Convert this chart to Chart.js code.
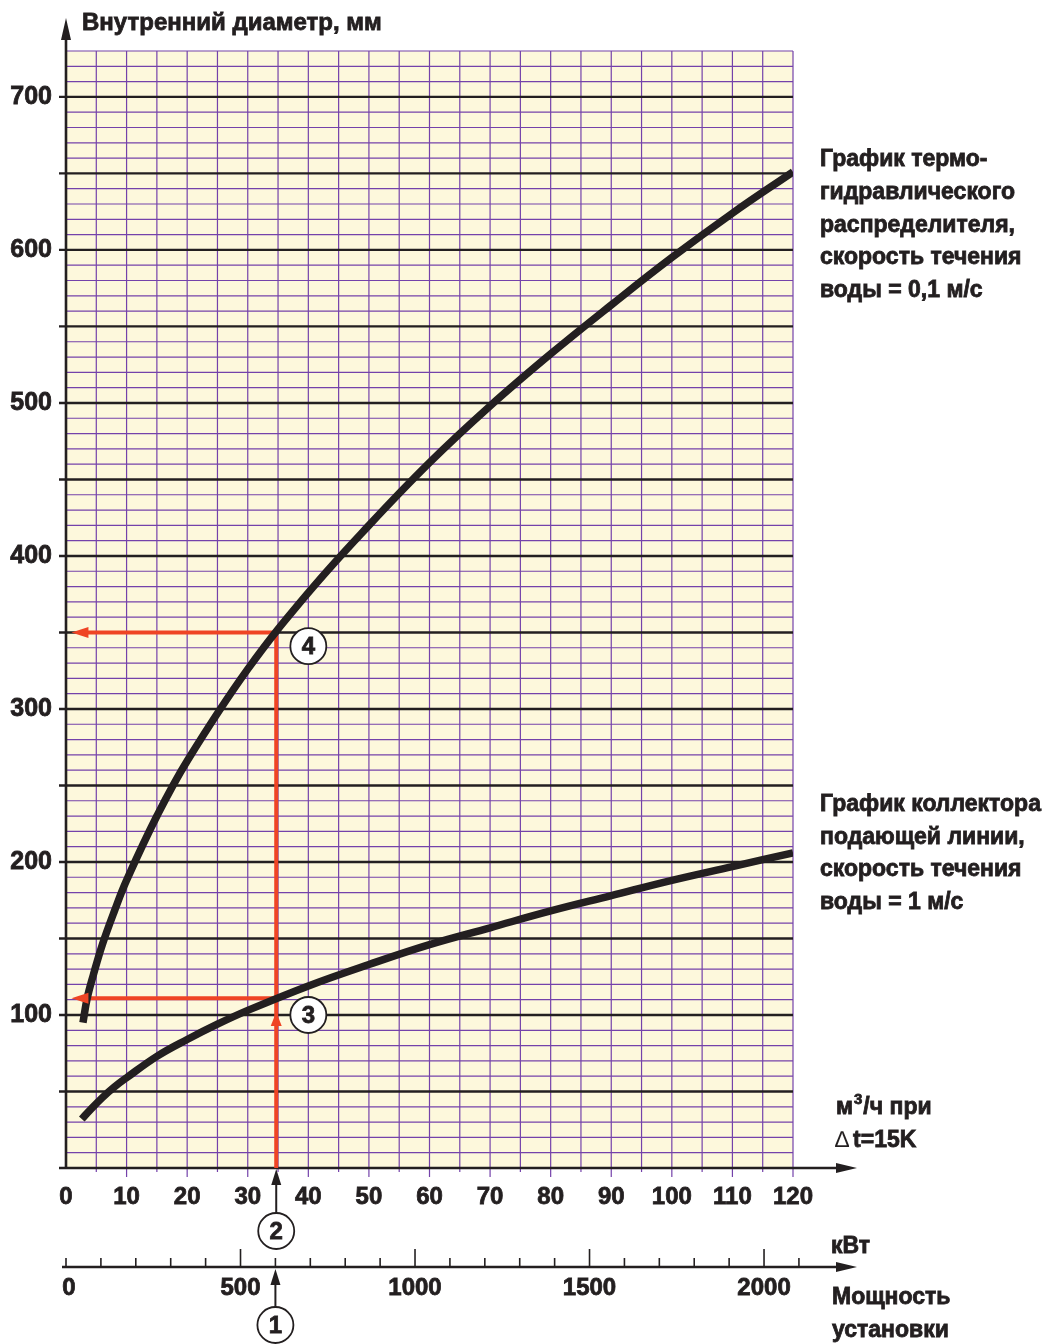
<!DOCTYPE html>
<html>
<head>
<meta charset="utf-8">
<script src="https://cdn.jsdelivr.net/npm/chart.js@4"></script>
<style>
  html, body { margin: 0; padding: 0; background: #fff; }
</style>
</head>
<body>
<canvas id="chart" width="1052" height="1344"></canvas>
<script>
// values
const flowTop = [2.8, 3.5, 4.5, 6, 8, 10, 15, 20, 30, 40, 50, 60, 70, 80, 90, 100, 110, 120];
const diamTop = [95, 111, 126, 146, 168, 188, 230, 266, 326, 376, 420, 461, 498, 532, 564, 595, 624, 651];
const flowBottom = [2.6, 4, 6, 8, 10, 15, 20, 25, 30, 40, 50, 60, 70, 80, 90, 100, 110, 120];
const diamBottom = [32, 38, 46, 53, 59, 73, 84, 94, 103, 119, 133, 146, 157, 168, 178, 188, 197, 206];

const guideFlow = 34.7;      // m3/h, red vertical
const guideDiam = [111, 350]; // mm, red horizontals
const guideKw = 600;
const kwAt120 = 2083;        // kW at the right edge of the grid

const xTickLabels = [0, 10, 20, 30, 40, 50, 60, 70, 80, 90, 100, 110, 120];
const yTickLabels = [100, 200, 300, 400, 500, 600, 700];
const kwTickLabels = [0, 500, 1000, 1500, 2000];

const ink = '#231f20';
const red = '#ef4424';
const purple = '#7442aa';
const font = '"Liberation Sans", Arial, sans-serif';

const toPoints = (xs, ys) => xs.map((v, i) => ({ x: v, y: ys[i] }));

function line(ctx, x1, y1, x2, y2) {
    ctx.beginPath();
    ctx.moveTo(x1, y1);
    ctx.lineTo(x2, y2);
    ctx.stroke();
}

function head(ctx, tx, ty, dir, len, hw) {
    ctx.beginPath();
    ctx.moveTo(tx, ty);
    if (dir === 'up') {
        ctx.lineTo(tx - hw, ty + len);
        ctx.lineTo(tx + hw, ty + len);
    } else if (dir === 'left') {
        ctx.lineTo(tx + len, ty - hw);
        ctx.lineTo(tx + len, ty + hw);
    } else {
        ctx.lineTo(tx - len, ty - hw);
        ctx.lineTo(tx - len, ty + hw);
    }
    ctx.closePath();
    ctx.fill();
}

// heavy text: fill plus a thin stroke of the same colour
function text(ctx, t, x, y) {
    ctx.fillText(t, x, y);
    ctx.strokeText(t, x, y);
}

function circled(ctx, cx, cy, label) {
    ctx.beginPath();
    ctx.arc(cx, cy, 18, 0, Math.PI * 2);
    ctx.fillStyle = '#fff';
    ctx.fill();
    ctx.lineWidth = 1.8;
    ctx.strokeStyle = ink;
    ctx.stroke();
    ctx.fillStyle = ink;
    ctx.lineWidth = 0.8;
    ctx.font = 'bold 24px ' + font;
    ctx.textAlign = 'center';
    ctx.textBaseline = 'middle';
    text(ctx, label, cx, cy + 1);
}

const gridPlugin = {
    id: 'grid',
    beforeDatasetsDraw(chart) {
        const { ctx, chartArea: a, scales: { x, y } } = chart;
        ctx.save();
        ctx.fillStyle = '#fdf8dc';
        ctx.fillRect(a.left, a.top, a.right - a.left, a.bottom - a.top);

        ctx.strokeStyle = purple;
        ctx.lineWidth = 1.2;
        for (let v = 5; v <= 120; v += 5) {
            const px = x.getPixelForValue(v);
            line(ctx, px, a.top, px, a.bottom + (v % 10 === 0 ? 9 : 4));
        }
        for (let v = 10; v <= 730; v += 10) {
            if (v % 50 === 0) continue;
            const py = y.getPixelForValue(v);
            line(ctx, a.left, py, a.right, py);
        }

        ctx.strokeStyle = ink;
        ctx.lineWidth = 2.4;
        for (let v = 50; v <= 700; v += 50) {
            const py = y.getPixelForValue(v);
            line(ctx, a.left - 7, py, a.right, py);
        }

        // axes with arrows
        ctx.fillStyle = ink;
        ctx.lineWidth = 2.6;
        line(ctx, a.left, a.bottom + 1, a.left, 36);
        head(ctx, a.left, 18, 'up', 22, 5);
        line(ctx, 59, a.bottom, 840, a.bottom);
        head(ctx, 857, a.bottom, 'right', 21, 5);
        ctx.restore();
    },
    afterDatasetsDraw(chart) {
        const { ctx, scales: { x, y, kw } } = chart;
        ctx.save();

        // red arrowheads
        ctx.fillStyle = red;
        const gx = x.getPixelForValue(guideFlow);
        head(ctx, gx, y.getPixelForValue(102), 'up', 14, 5.5);
        guideDiam.forEach(d => head(ctx, x.getPixelForValue(0.9), y.getPixelForValue(d), 'left', 17, 5.5));

        circled(ctx, x.getPixelForValue(40), y.getPixelForValue(341), '4');
        circled(ctx, x.getPixelForValue(40), y.getPixelForValue(100), '3');

        // arrow 2 to the flow axis
        ctx.strokeStyle = ink;
        ctx.fillStyle = ink;
        ctx.lineWidth = 2;
        line(ctx, gx, 1213, gx, 1183);
        head(ctx, gx, 1169, 'up', 16, 5);
        circled(ctx, gx, 1231, '2');

        // kW axis
        const axisY = 1267;
        ctx.strokeStyle = ink;
        ctx.fillStyle = ink;
        ctx.lineWidth = 2.5;
        line(ctx, 62, axisY, 840, axisY);
        head(ctx, 857, axisY, 'right', 21, 5);
        ctx.lineWidth = 1.6;
        for (let v = 0; v <= 2100; v += 100) {
            const px = kw.getPixelForValue(v);
            const top = (v % 500 === 0 && v > 0) ? 1249 : 1258;
            line(ctx, px, top, px, axisY);
        }
        ctx.lineWidth = 0.8;
        ctx.font = 'bold 24px ' + font;
        ctx.textAlign = 'center';
        ctx.textBaseline = 'alphabetic';
        kwTickLabels.forEach(v => {
            text(ctx, String(v), kw.getPixelForValue(v) + (v === 0 ? 3 : 0), 1295);
        });

        // arrow 1 to the kW axis
        const kx = kw.getPixelForValue(guideKw);
        ctx.lineWidth = 2;
        line(ctx, kx, 1307, kx, 1282);
        head(ctx, kx, 1269, 'up', 16, 5);
        circled(ctx, kx, 1325, '1');

        // texts
        ctx.fillStyle = ink;
        ctx.strokeStyle = ink;
        ctx.lineWidth = 0.8;
        ctx.textAlign = 'left';
        ctx.textBaseline = 'alphabetic';
        ctx.font = 'bold 24px ' + font;
        text(ctx, 'Внутренний диаметр, мм', 82, 30);

        ctx.font = 'bold 23px ' + font;
        const block1 = ['График термо-', 'гидравлического', 'распределителя,', 'скорость течения', 'воды = 0,1 м/с'];
        block1.forEach((t, i) => text(ctx, t, 820, 166 + i * 32.75));
        const block2 = ['График коллектора', 'подающей линии,', 'скорость течения', 'воды = 1 м/с'];
        block2.forEach((t, i) => text(ctx, t, 820, 811 + i * 32.5));

        text(ctx, 'м', 836, 1114);
        const w = ctx.measureText('м').width;
        ctx.font = 'bold 15px ' + font;
        text(ctx, '3', 836 + w + 1, 1104);
        const w3 = ctx.measureText('3').width;
        ctx.font = 'bold 23px ' + font;
        text(ctx, '/ч при', 836 + w + w3 + 2, 1114);
        ctx.font = '23px ' + font;
        ctx.fillText('∆', 835, 1147);
        const wd = ctx.measureText('∆').width;
        ctx.font = 'bold 23px ' + font;
        text(ctx, 't=15K', 835 + wd + 4, 1147);

        text(ctx, 'кВт', 831, 1253);
        text(ctx, 'Мощность', 832, 1304);
        text(ctx, 'установки', 832, 1337);
        ctx.restore();
    }
};

new Chart(document.getElementById('chart').getContext('2d'), {
    type: 'line',
    data: {
        datasets: [
            {
                data: toPoints(flowTop, diamTop),
                borderColor: ink,
                borderWidth: 7.5,
                pointRadius: 0,
                tension: 0.4,
                fill: false
            },
            {
                data: toPoints(flowBottom, diamBottom),
                borderColor: ink,
                borderWidth: 7.5,
                pointRadius: 0,
                tension: 0.4,
                fill: false
            },
            {
                data: [{ x: guideFlow, y: 0 }, { x: guideFlow, y: guideDiam[1] }],
                borderColor: red,
                borderWidth: 4,
                pointRadius: 0
            },
            {
                data: [{ x: guideFlow, y: guideDiam[1] }, { x: 3, y: guideDiam[1] }],
                borderColor: red,
                borderWidth: 4,
                pointRadius: 0
            },
            {
                data: [{ x: guideFlow, y: guideDiam[0] }, { x: 3, y: guideDiam[0] }],
                borderColor: red,
                borderWidth: 4,
                pointRadius: 0
            }
        ]
    },
    options: {
        responsive: false,
        animation: false,
        devicePixelRatio: 1,
        layout: { padding: { top: 51, right: 259, left: 0, bottom: 0 } },
        plugins: {
            legend: { display: false },
            tooltip: { enabled: false }
        },
        scales: {
            x: {
                type: 'linear',
                position: 'bottom',
                min: 0,
                max: 120,
                afterFit: s => { s.height = 176; },
                grid: { display: false, drawTicks: false },
                border: { display: false },
                afterBuildTicks: s => { s.ticks = xTickLabels.map(v => ({ value: v })); },
                ticks: {
                    padding: 15,
                    maxRotation: 0,
                    autoSkip: false,
                    color: ink,
                    textStrokeColor: ink,
                    textStrokeWidth: 0.8,
                    font: { family: font, weight: 'bold', size: 24 }
                }
            },
            y: {
                type: 'linear',
                min: 0,
                max: 730,
                afterFit: s => { s.width = 66; },
                grid: { display: false, drawTicks: false },
                border: { display: false },
                afterBuildTicks: s => { s.ticks = yTickLabels.map(v => ({ value: v })); },
                ticks: {
                    padding: 14,
                    color: ink,
                    textStrokeColor: ink,
                    textStrokeWidth: 0.8,
                    font: { family: font, weight: 'bold', size: 25 }
                }
            },
            kw: {
                type: 'linear',
                axis: 'x',
                position: 'bottom',
                display: false,
                min: 0,
                max: kwAt120
            }
        }
    },
    plugins: [gridPlugin]
});
</script>
</body>
</html>
